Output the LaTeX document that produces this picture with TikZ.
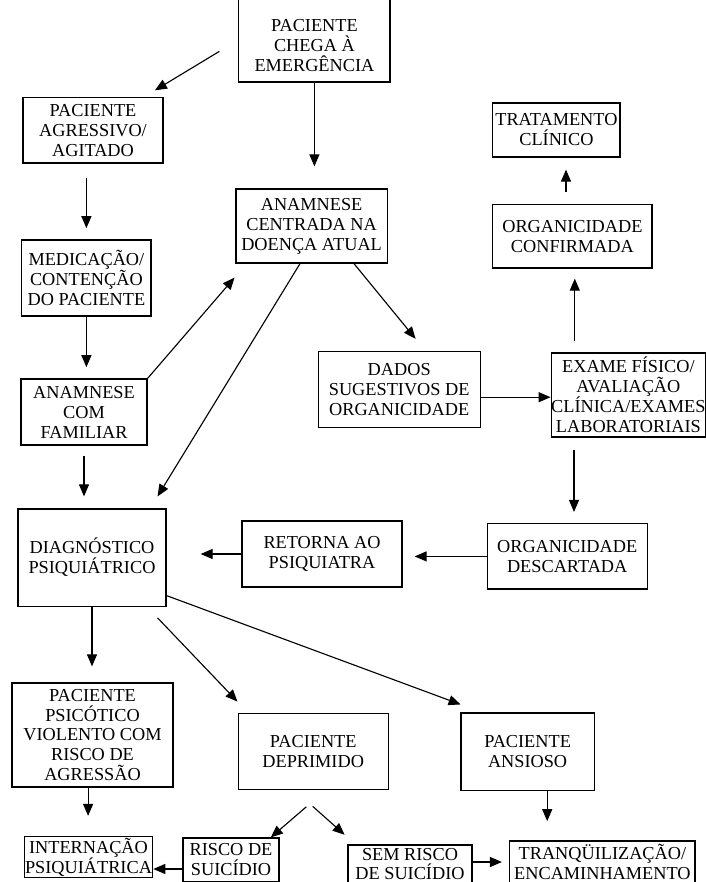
\documentclass[tikz,border=0pt]{standalone}
\usepackage{fontspec}
\setmainfont{Liberation Serif}
\usepackage{tikz}
\usetikzlibrary{arrows.meta}
\usetikzlibrary{positioning}

\begin{document}
\begin{tikzpicture}[
	line width=0.8pt,
	font=\fontsize{13}{14.2}\selectfont
]
\tikzset{
    caixa/.style = {rectangle, draw=black, align=center, inner sep=1pt, line width=0.9pt},
    seta/.style = {-{Triangle[length=0.3cm,width=0.25cm]}, line width=0.8pt}
}
\useasboundingbox (0,0) rectangle (17.625,-22.05);
% caixas
\node[caixa,minimum width=3.78cm,minimum height=2.1cm] (chega) at (7.86,-1.0) {\rule{0pt}{17pt}PACIENTE\\CHEGA À\\EMERGÊNCIA};
\node[caixa,minimum width=3.5cm,minimum height=1.63cm] (agressivo) at (2.325,-3.26) {PACIENTE\\AGRESSIVO/\\AGITADO};
\node[caixa,minimum width=3.23cm,minimum height=1.9cm] (medicacao) at (2.16,-6.95) {MEDICAÇÃO/\\CONTENÇÃO\\DO PACIENTE};
\node[caixa,minimum width=3.15cm,minimum height=1.65cm] (familiar) at (2.1,-10.3) {ANAMNESE\\COM\\FAMILIAR};
\node[caixa,minimum width=3.78cm,minimum height=1.85cm] (centrada) at (7.79,-5.65) {ANAMNESE\\CENTRADA NA\\DOENÇA ATUAL};
\node[caixa,minimum width=3.18cm,minimum height=1.35cm] (tratamento) at (13.91,-3.25) {TRATAMENTO\\CLÍNICO};
\node[caixa,minimum width=3.98cm,minimum height=1.58cm] (confirmada) at (14.31,-5.91) {ORGANICIDADE\\CONFIRMADA};
\node[caixa,minimum width=4.05cm,minimum height=1.9cm] (dados) at (9.98,-9.73) {DADOS\\SUGESTIVOS DE\\ORGANICIDADE};
\node[caixa,inner xsep=0pt,minimum width=3.83cm,minimum height=2.1cm] (exame) at (15.71,-9.875) {EXAME FÍSICO/\\AVALIAÇÃO\\CLÍNICA/EXAMES\\LABORATORIAIS};
\node[caixa,minimum width=3.7cm,minimum height=2.43cm] (diagnostico) at (2.3,-13.94) {DIAGNÓSTICO\\PSIQUIÁTRICO};
\node[caixa,minimum width=4.0cm,minimum height=1.65cm] (retorna) at (8.05,-13.85) {RETORNA AO\\PSIQUIATRA};
\node[caixa,minimum width=4.0cm,minimum height=1.63cm] (descartada) at (14.18,-13.91) {ORGANICIDADE\\DESCARTADA};
\node[caixa,minimum width=4.03cm,minimum height=2.6cm] (psicotico) at (2.3125,-18.375) {PACIENTE\\PSICÓTICO\\VIOLENTO COM\\RISCO DE\\AGRESSÃO};
\node[caixa,minimum width=3.75cm,minimum height=1.9cm] (deprimido) at (7.83,-18.78) {PACIENTE\\DEPRIMIDO};
\node[caixa,minimum width=3.33cm,minimum height=1.93cm] (ansioso) at (13.19,-18.79) {PACIENTE\\ANSIOSO};
\node[caixa,inner xsep=0.5pt,minimum width=3.175cm,minimum height=1.0cm] (internacao) at (2.2125,-21.425) {INTERNAÇÃO\\PSIQUIÁTRICA};
\node[caixa,minimum width=2.4cm,minimum height=1.1cm] (risco) at (5.775,-21.5) {RISCO DE\\SUICÍDIO};
\node[caixa,minimum width=3.1cm,minimum height=0.95cm,font=\fontsize{13}{13}\selectfont] (semrisco) at (10.25,-21.6) {SEM RISCO\\DE SUICÍDIO};
\node[caixa,minimum width=4.63cm,minimum height=1.03cm] (tranq) at (15.06,-21.54) {TRANQÜILIZAÇÃO/\\ENCAMINHAMENTO};
% setas
\draw[seta,shorten <=0.55cm,shorten >=0.33cm] (chega.west) -- ([xshift=-0.5cm]agressivo.north east);
\draw[seta,shorten >=0.55cm] (chega.south) -- (chega.south |- centrada.north);
\draw[seta,shorten <=0.35cm,shorten >=0.28cm] (medicacao.north |- agressivo.south) -- (medicacao.north);
\draw[seta,shorten >=0.28cm] (medicacao.south) -- (medicacao.south |- familiar.north);
\draw[seta,shorten >=0.46cm] (familiar.north east) -- ([xshift=0.28cm]centrada.south west);
\draw[seta,shorten >=0.35cm] ([xshift=-0.29cm]centrada.south) -- ([xshift=-0.41cm]diagnostico.north east);
\draw[seta,shorten >=0.38cm] ([xshift=1.06cm]centrada.south) -- ([xshift=0.65cm]dados.north);
\draw[seta] ([yshift=-0.2cm]dados.east) -- ([yshift=-0.2cm]dados.east -| exame.west);
\draw[seta,shorten <=0.28cm,shorten >=0.25cm] ([xshift=0.06cm]confirmada.south |- exame.north) -- ([xshift=0.06cm]confirmada.south);
\draw[seta,shorten <=0.3cm,shorten >=0.3cm] ([xshift=-0.16cm]confirmada.north) -- ([xshift=-0.16cm]confirmada.north |- tratamento.south);
\draw[seta,shorten <=0.3cm,shorten >=0.28cm] ([xshift=0.17cm]descartada.north |- exame.south) -- ([xshift=0.17cm]descartada.north);
\draw[seta,shorten >=0.3cm] (descartada.west) -- (descartada.west -| retorna.east);
\draw[seta,shorten >=0.85cm] (retorna.west) -- (retorna.west -| diagnostico.east);
\draw[seta,shorten <=0.25cm,shorten >=0.3cm] (familiar.south) -- (familiar.south |- diagnostico.north);
\draw[seta,shorten >=0.4cm] (diagnostico.south) -- (diagnostico.south |- psicotico.north);
\draw[seta,shorten <=0.38cm,shorten >=0.38cm] ([xshift=-0.49cm]diagnostico.south east) -- ([xshift=0.26cm]deprimido.north west);
\draw[seta,shorten >=0.57cm] ([yshift=0.28cm]diagnostico.south east) -- ([xshift=0.54cm]ansioso.north west);
\draw[seta,shorten >=0.5cm] ([xshift=-0.11cm]psicotico.south) -- ([xshift=-0.11cm]psicotico.south |- internacao.north);
\draw[seta,shorten <=0.65cm] ([xshift=0.32cm]deprimido.south) -- ([xshift=-0.22cm]risco.north east);
\draw[seta,shorten <=0.62cm,shorten >=0.36cm] ([xshift=-0.475cm]deprimido.south) -- ([xshift=0.2cm]semrisco.north west);
\draw[seta] ([yshift=-0.225cm]risco.west) -- ([yshift=-0.225cm]risco.west -| internacao.east);
\draw[seta,shorten >=0.18cm] ([yshift=0.05cm]semrisco.east) -- ([yshift=0.05cm]semrisco.east -| tranq.west);
\draw[seta,shorten >=0.48cm] ([xshift=0.49cm]ansioso.south) -- ([xshift=0.49cm]ansioso.south |- tranq.north);
\end{tikzpicture}
\end{document}
